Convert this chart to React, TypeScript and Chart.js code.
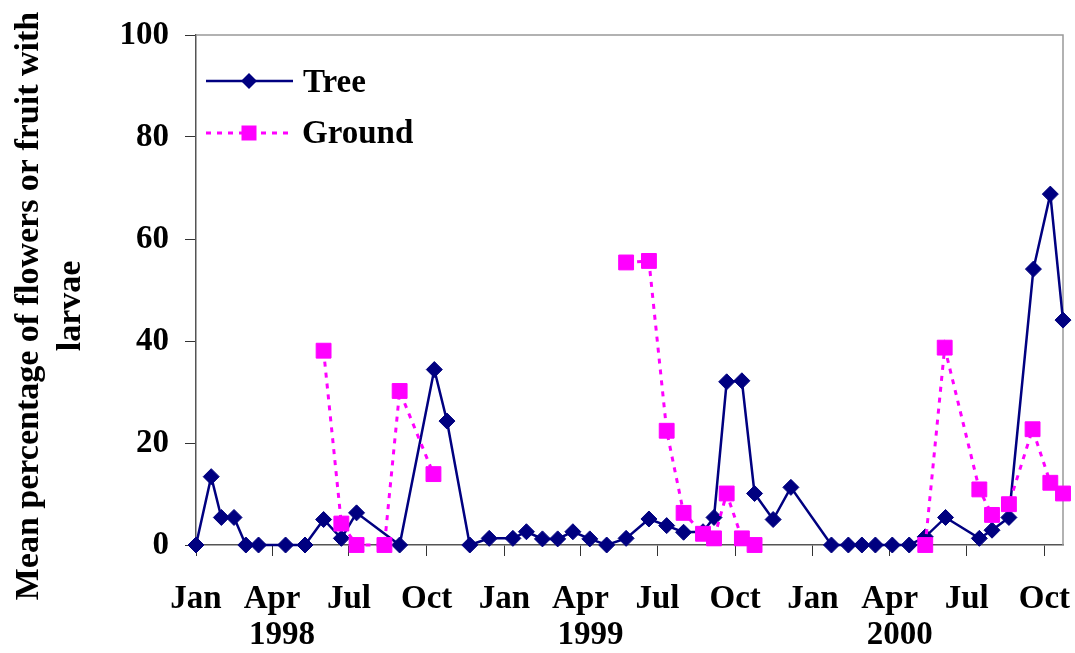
import React, { useEffect, useRef } from "react";
import { Chart, registerables } from "chart.js";

Chart.register(...registerables);

// ---------- data ----------
const seriesNames = ["Tree", "Ground"];

const treeDates = [
  "1998-01-01", "1998-01-19", "1998-01-31", "1998-02-15", "1998-03-01", "1998-03-16",
  "1998-04-17", "1998-05-10", "1998-06-01", "1998-06-22", "1998-07-10", "1998-08-30",
  "1998-10-10", "1998-10-25", "1998-11-21", "1998-12-14", "1999-01-11", "1999-01-27",
  "1999-02-15", "1999-03-05", "1999-03-23", "1999-04-12", "1999-05-02", "1999-05-25",
  "1999-06-21", "1999-07-12", "1999-08-01", "1999-08-24", "1999-09-06", "1999-09-21",
  "1999-10-09", "1999-10-24", "1999-11-15", "1999-12-06", "2000-01-23", "2000-02-12",
  "2000-02-28", "2000-03-15", "2000-04-04", "2000-04-24", "2000-05-13", "2000-06-06",
  "2000-07-16", "2000-07-31", "2000-08-20", "2000-09-18", "2000-10-08", "2000-10-23",
];
const treeValues = [
  0, 13.4, 5.4, 5.4, 0, 0,
  0, 0, 5.0, 1.3, 6.3, 0,
  34.4, 24.3, 0, 1.3, 1.3, 2.6,
  1.2, 1.2, 2.6, 1.2, 0, 1.3,
  5.1, 3.8, 2.5, 2.6, 5.4, 32.0,
  32.2, 10.1, 5.0, 11.3, 0, 0,
  0, 0, 0, 0, 1.6, 5.4,
  1.3, 2.9, 5.4, 54.1, 68.8, 44.1,
];

// null values mark the breaks in the Ground series
const groundDates = [
  "1998-06-01", "1998-06-22", "1998-07-10", "1998-08-12", "1998-08-30", "1998-10-09",
  "1999-01-01",
  "1999-05-25", "1999-06-21", "1999-07-12", "1999-08-01", "1999-08-24", "1999-09-06",
  "1999-09-21", "1999-10-09", "1999-10-24",
  "2000-01-01",
  "2000-05-13", "2000-06-05", "2000-07-16", "2000-07-31", "2000-08-20", "2000-09-17",
  "2000-10-08", "2000-10-23",
];
const groundValues: (number | null)[] = [
  38.1, 4.2, 0, 0, 30.2, 13.9,
  null,
  55.4, 55.7, 22.4, 6.3, 2.2, 1.3,
  10.1, 1.3, 0,
  null,
  0, 38.7, 10.9, 5.9, 8.0, 22.7,
  12.2, 10.1,
];

const xTickDates = [
  "1998-01-01", "1998-04-01", "1998-07-01", "1998-10-01",
  "1999-01-01", "1999-04-01", "1999-07-01", "1999-10-01",
  "2000-01-01", "2000-04-01", "2000-07-01", "2000-10-01",
];
const xTickLabels = ["Jan", "Apr", "Jul", "Oct", "Jan", "Apr", "Jul", "Oct", "Jan", "Apr", "Jul", "Oct"];
const xYearLabels = ["", "1998", "", "", "", "1999", "", "", "", "2000", "", ""];
const yTicks = [0, 20, 40, 60, 80, 100];
const yAxisTitle = ["Mean percentage of flowers or fruit with", "larvae"];

// ---------- helpers ----------
const ORIGIN = Date.UTC(1998, 0, 1);
const toDay = (s: string) => {
  const [y, m, d] = s.split("-").map(Number);
  return (Date.UTC(y, m - 1, d) - ORIGIN) / 86400000;
};

const FONT = "'Liberation Serif', 'Times New Roman', serif";
const TREE_COLOR = "#000080";
const GROUND_COLOR = "#FF00FF";

const decorPlugin = {
  id: "decor",
  beforeDatasetsDraw(chart: any) {
    const { ctx, chartArea: a } = chart;
    ctx.save();
    ctx.strokeStyle = "#999999";
    ctx.lineWidth = 1.5;
    ctx.beginPath();
    ctx.moveTo(a.left, a.top);
    ctx.lineTo(a.right, a.top);
    ctx.lineTo(a.right, a.bottom);
    ctx.stroke();
    ctx.restore();
  },
  afterDraw(chart: any) {
    const { ctx } = chart;
    ctx.save();
    // year labels under the April ticks
    const xs = chart.scales.x;
    ctx.font = `bold 33px ${FONT}`;
    ctx.fillStyle = "#000";
    ctx.textAlign = "center";
    ctx.textBaseline = "alphabetic";
    xYearLabels.forEach((yr, i) => {
      if (!yr) return;
      const px = xs.getPixelForValue(toDay(xTickDates[i]));
      ctx.fillText(yr, px + 10, 644);
    });

    // legend
    ctx.textAlign = "left";
    // Tree
    ctx.strokeStyle = TREE_COLOR;
    ctx.lineWidth = 2.5;
    ctx.setLineDash([]);
    ctx.beginPath();
    ctx.moveTo(206, 81);
    ctx.lineTo(293, 81);
    ctx.stroke();
    ctx.fillStyle = TREE_COLOR;
    ctx.beginPath();
    ctx.moveTo(249, 73);
    ctx.lineTo(257, 81);
    ctx.lineTo(249, 89);
    ctx.lineTo(241, 81);
    ctx.closePath();
    ctx.fill();
    ctx.fillStyle = "#000";
    ctx.fillText(seriesNames[0], 303, 92);
    // Ground
    ctx.strokeStyle = GROUND_COLOR;
    ctx.lineWidth = 3;
    ctx.setLineDash([5, 6]);
    ctx.beginPath();
    ctx.moveTo(206, 133);
    ctx.lineTo(293, 133);
    ctx.stroke();
    ctx.setLineDash([]);
    ctx.fillStyle = GROUND_COLOR;
    ctx.fillRect(241.5, 125.5, 15, 15);
    ctx.fillStyle = "#000";
    ctx.fillText(seriesNames[1], 302, 143);

    // y axis title
    ctx.font = `bold 34px ${FONT}`;
    ctx.textAlign = "center";
    ctx.translate(38, 306);
    ctx.rotate(-Math.PI / 2);
    ctx.fillText(yAxisTitle[0], 0, 0);
    ctx.fillText(yAxisTitle[1], 0, 42);
    ctx.restore();
  },
};

export default function App() {
  const ref = useRef<HTMLCanvasElement>(null);

  useEffect(() => {
    if (!ref.current) return;
    const treeData = treeDates.map((d, i) => ({ x: toDay(d), y: treeValues[i] }));
    const groundData = groundDates.map((d, i) => ({ x: toDay(d), y: groundValues[i] }));
    const tickDays = xTickDates.map(toDay);
    const xMax = toDay(treeDates[treeDates.length - 1]);

    const chart = new Chart(ref.current, {
      type: "line",
      data: {
        datasets: [
          {
            label: seriesNames[0],
            data: treeData as any,
            borderColor: TREE_COLOR,
            backgroundColor: TREE_COLOR,
            borderWidth: 2.5,
            pointStyle: "rectRot",
            pointRadius: 8,
            pointBorderWidth: 1,
            pointBackgroundColor: TREE_COLOR,
            pointBorderColor: TREE_COLOR,
            tension: 0,
            clip: false as any,
            order: 1,
          },
          {
            label: seriesNames[1],
            data: groundData as any,
            borderColor: GROUND_COLOR,
            backgroundColor: GROUND_COLOR,
            borderWidth: 3,
            borderDash: [5, 6],
            pointStyle: "rect",
            pointRadius: 10.5,
            pointBorderWidth: 1,
            pointBackgroundColor: GROUND_COLOR,
            pointBorderColor: GROUND_COLOR,
            tension: 0,
            spanGaps: false,
            clip: false as any,
            order: 0,
          },
        ],
      },
      options: {
        animation: false,
        responsive: false,
        devicePixelRatio: 1,
        layout: { padding: { left: 0, right: 12, top: 35, bottom: 0 } },
        plugins: {
          legend: { display: false },
          tooltip: { enabled: false },
          title: { display: false },
        },
        scales: {
          x: {
            type: "linear",
            min: 0,
            max: xMax,
            afterBuildTicks(scale: any) {
              scale.ticks = tickDays.map((v) => ({ value: v }));
            },
            afterFit(scale: any) {
              scale.height = 108;
              scale.paddingLeft = 0;
              scale.paddingRight = 0;
            },
            grid: {
              display: true,
              drawOnChartArea: false,
              drawTicks: true,
              tickLength: 11,
              tickColor: "#333",
              lineWidth: 1,
            },
            border: { display: true, color: "#555", width: 1.5 },
            ticks: {
              autoSkip: false,
              maxRotation: 0,
              minRotation: 0,
              padding: 26,
              color: "#000",
              font: { family: FONT, size: 33, weight: "bold", lineHeight: 1.06 },
              callback: (_v: any, i: number) => xTickLabels[i],
            },
          },
          y: {
            type: "linear",
            min: 0,
            max: 100,
            afterBuildTicks(scale: any) {
              scale.ticks = yTicks.map((v) => ({ value: v }));
            },
            afterFit(scale: any) {
              scale.width = 196;
              scale.paddingTop = 0;
              scale.paddingBottom = 0;
            },
            grid: {
              display: true,
              drawOnChartArea: false,
              drawTicks: true,
              tickLength: 11,
              tickColor: "#333",
              lineWidth: 1,
            },
            border: { display: true, color: "#555", width: 1.5 },
            ticks: {
              padding: 16,
              color: "#000",
              font: { family: FONT, size: 33, weight: "bold" },
            },
          },
        },
      },
      plugins: [decorPlugin],
    });
    return () => chart.destroy();
  }, []);

  return (
    <div style={{ position: "absolute", left: 0, top: 0, width: 1075, height: 653, background: "#fff" }}>
      <canvas ref={ref} width={1075} height={653} />
    </div>
  );
}
